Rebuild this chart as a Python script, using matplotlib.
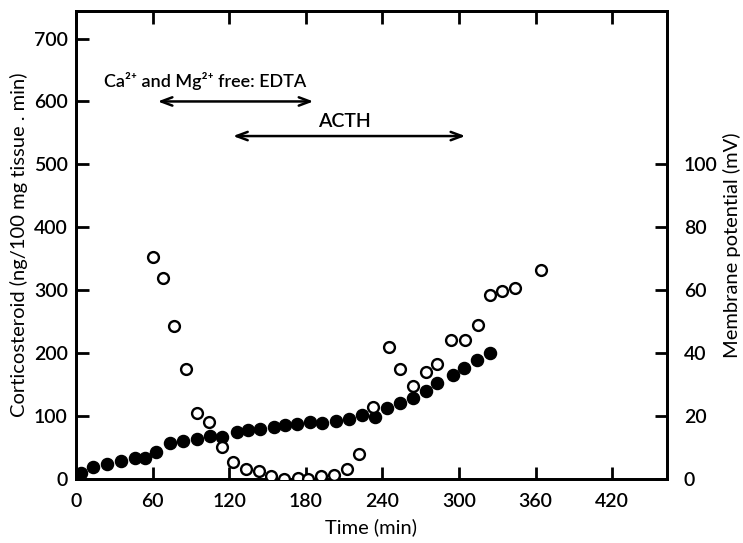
import matplotlib
matplotlib.use("Agg")
import matplotlib.pyplot as plt

plt.rcParams['font.family'] = ['Lato', 'DejaVu Sans']
plt.rcParams['font.weight'] = 'semibold'

# Corticosteroid output (filled circles, left axis)
cort_time = [4, 13, 24, 35, 46, 54, 63, 74, 84, 95, 105, 114, 126, 135, 144,
             155, 164, 173, 183, 193, 204, 214, 224, 234, 244, 254, 264, 274,
             283, 295, 304, 314, 324]
cort_vals = [10, 19, 23, 28, 33, 34, 43, 57, 61, 64, 68, 67, 74, 78, 79,
             83, 85, 87, 90, 89, 92, 96, 101, 98, 113, 120, 128, 140,
             152, 165, 176, 189, 200]

# Membrane potential (open circles, right axis)
mp_time = [60, 68, 77, 86, 95, 104, 114, 123, 133, 143, 153, 163, 174, 182,
           192, 202, 212, 222, 233, 245, 254, 264, 274, 283, 294, 305, 315,
           324, 334, 344, 364]
mp_vals = [70.5, 64, 48.5, 35, 21, 18, 10, 5.5, 3.1, 2.5, 0.9, 0.1, 0.3, 0.1,
           0.8, 1.4, 3.3, 7.9, 23, 42, 35, 29.6, 34, 36.6, 44.2, 44.2, 49,
           58.4, 59.6, 60.7, 66.5]

x_ticks = [0, 60, 120, 180, 240, 300, 360, 420]
left_ticks = [0, 100, 200, 300, 400, 500, 600, 700]
right_ticks = [0, 20, 40, 60, 80, 100]

fig = plt.figure(figsize=(7.43, 5.43), dpi=100)
ax = fig.add_axes([0.1023, 0.118, 0.7954, 0.862])
ax2 = ax.twinx()

ax.plot(cort_time, cort_vals, 'o', color='black', markersize=8.7, zorder=3)
ax2.plot(mp_time, mp_vals, 'o', markerfacecolor='white', markeredgecolor='black',
         markersize=7.8, markeredgewidth=1.7, zorder=3)

ax.set_xlim(0, 463)
ax.set_ylim(0, 744)
ax2.set_ylim(0, 148.8)

ax.set_xticks(x_ticks)
ax.set_yticks(left_ticks)
ax2.set_yticks(right_ticks)

for a in (ax, ax2):
    for s in a.spines.values():
        s.set_linewidth(2)
ax.tick_params(axis='x', direction='in', length=9, width=2, top=True,
               labelsize=14, pad=10)
ax.tick_params(axis='y', direction='in', length=9, width=2, labelsize=14, pad=6)
ax2.tick_params(axis='y', direction='in', length=9, width=2, labelsize=14, pad=12)

ax.set_xlabel('Time (min)', fontsize=14.5, labelpad=6)
ax.set_ylabel('Corticosteroid (ng/100 mg tissue . min)', fontsize=14.5, labelpad=4)
ax2.set_ylabel('Membrane potential (mV)', fontsize=14.5, labelpad=4)

# Treatment annotations
arrow_style = dict(arrowstyle='<->,head_length=0.8,head_width=0.3',
                   lw=1.8, color='black', shrinkA=0, shrinkB=0)
ax.annotate('', xy=(64, 600), xytext=(186, 600), arrowprops=arrow_style)
ax.text(101, 633, 'Ca²⁺ and Mg²⁺ free: EDTA', ha='center', va='center',
        fontsize=13)
ax.annotate('', xy=(123, 545), xytext=(305, 545), arrowprops=arrow_style)
ax.text(210, 568, 'ACTH', ha='center', va='center', fontsize=14)

fig.savefig('out.png', dpi=100)
